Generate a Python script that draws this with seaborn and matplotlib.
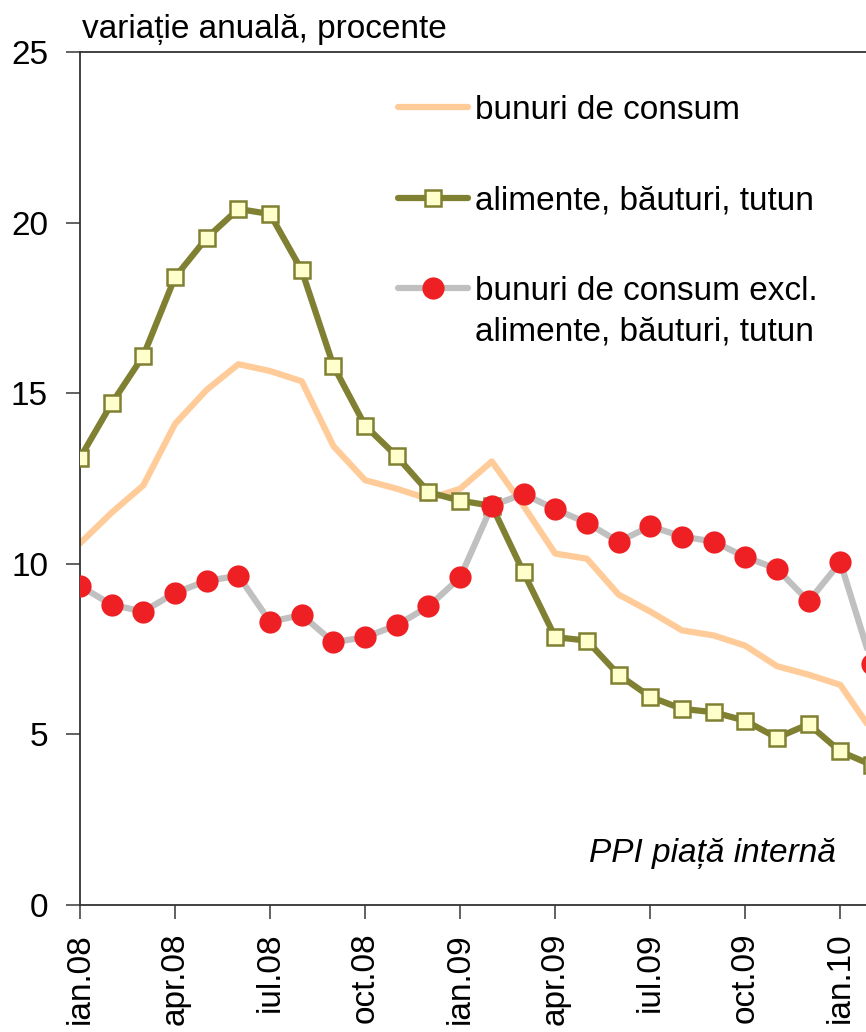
import matplotlib
matplotlib.use("Agg")
import matplotlib.pyplot as plt
import seaborn as sns
import pandas as pd

# monthly data ian.08 - feb.10, variatie anuala (%)
months = list(range(26))
tick_pos = [0, 3, 6, 9, 12, 15, 18, 21, 24]
tick_labels = ["ian.08", "apr.08", "iul.08", "oct.08", "ian.09",
               "apr.09", "iul.09", "oct.09", "ian.10"]

bunuri_consum = [10.6, 11.5, 12.3, 14.1, 15.1, 15.85, 15.65, 15.35, 13.45, 12.45, 12.2, 11.9,
                 12.2, 13.0, 11.7, 10.3, 10.15, 9.1, 8.6, 8.05, 7.9, 7.6, 7.0, 6.75, 6.45, 5.1]
alimente = [13.1, 14.7, 16.1, 18.4, 19.55, 20.4, 20.25, 18.6, 15.8, 14.05, 13.15, 12.1,
            11.85, 11.7, 9.75, 7.85, 7.75, 6.75, 6.1, 5.75, 5.65, 5.4, 4.9, 5.3, 4.5, 4.1]
excl_alimente = [9.35, 8.8, 8.6, 9.15, 9.5, 9.65, 8.3, 8.5, 7.7, 7.85, 8.2, 8.75,
                 9.6, 11.7, 12.05, 11.6, 11.2, 10.65, 11.1, 10.8, 10.65, 10.2, 9.85, 8.9, 10.05, 7.05]

df = pd.DataFrame({"luna": months, "bunuri": bunuri_consum,
                   "alimente": alimente, "excl": excl_alimente})

sns.set_style("ticks")
plt.rcParams["font.family"] = ["Liberation Sans", "DejaVu Sans"]
plt.rcParams["font.size"] = 24
plt.rcParams["text.color"] = "black"

fig = plt.figure(figsize=(8.66, 10.32), dpi=100)
# axes runs past the right edge of the figure, like in the original
ax = fig.add_axes([80 / 866, 127 / 1032, 26 * 31.68 / 866, 853 / 1032])

sns.lineplot(data=df, x="luna", y="bunuri", ax=ax, color="#FFCC99", linewidth=4.5,
             label="bunuri de consum", solid_capstyle="round", zorder=2)
sns.lineplot(data=df, x="luna", y="alimente", ax=ax, color="#808033", linewidth=4.5,
             marker="s", markersize=11, markerfacecolor="#FFFFCC", markeredgecolor="#808033",
             markeredgewidth=1.8, label="alimente, băuturi, tutun", solid_capstyle="round", zorder=3)
sns.lineplot(data=df, x="luna", y="excl", ax=ax, color="#C0C0C0", linewidth=4.5,
             marker="o", markersize=16, markerfacecolor="#EE2024", markeredgecolor="#EE2024",
             markeredgewidth=0, label="bunuri de consum excl.",
             solid_capstyle="round", zorder=4)

ax.set_xlim(0, 26)
ax.set_ylim(0, 25)
ax.set_yticks([0, 5, 10, 15, 20, 25])
ax.set_xticks(tick_pos)
ax.set_xticklabels(tick_labels, rotation=90)
ax.set_xlabel("")
ax.set_ylabel("")
ax.tick_params(axis="both", direction="out", length=10, width=1.3, color="#555555",
               labelcolor="black", labelsize=24)
ax.tick_params(axis="y", pad=13)
ax.tick_params(axis="x", pad=10)
for s in ax.spines.values():
    s.set_color("#333333")
    s.set_linewidth(1.3)

fig.text(82 / 866, 1 - 38 / 1032, "variație anuală, procente", fontsize=24, va="baseline")
fig.text(836 / 866, 1 - 862 / 1032, "PPI piață internă", fontsize=24, style="italic",
         ha="right", va="baseline")

leg = ax.legend(loc="upper left", bbox_to_anchor=(398 / 866, 1 - 95 / 1032),
                bbox_transform=fig.transFigure, frameon=False, fontsize=24,
                handlelength=2.1, handletextpad=0.2, labelspacing=1.78,
                borderpad=0, borderaxespad=0)
# second line of the third legend label
fig.text(475 / 866, 1 - 332 / 1032, "alimente, băuturi, tutun", fontsize=24, va="center")

fig.savefig("out.png", dpi=100)
